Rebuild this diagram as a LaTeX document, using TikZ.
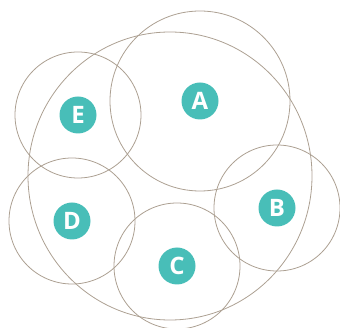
\documentclass[tikz,border=0pt]{standalone}
\usepackage{fontspec}
\setsansfont{Open Sans}
\usepackage{xcolor}
\usepackage{tikz}
\definecolor{ringgray}{RGB}{172,160,146}
\definecolor{badgeteal}{RGB}{72,190,184}

\begin{document}
\begin{tikzpicture}[
  x=1pt, y=-1pt,
  ring/.style={draw=ringgray, line width=0.8pt},
  badge/.style={circle, fill=badgeteal, text=white, minimum size=37pt,
                inner sep=0pt, font=\sffamily\bfseries\fontsize{24}{24}\selectfont},
]
\useasboundingbox (0,0) rectangle (340,328);
\draw[ring] (170,176) ellipse [x radius=142, y radius=144];
\foreach \name/\x/\y/\r in {A/200/101/90, B/277/208/63, C/177/266/63,
                            D/72/221/63, E/78/115/63} {
  \draw[ring] (\x,\y) circle [radius=\r];
  \node[badge] (\name) at (\x,\y) {\name};
}
\end{tikzpicture}
\end{document}
